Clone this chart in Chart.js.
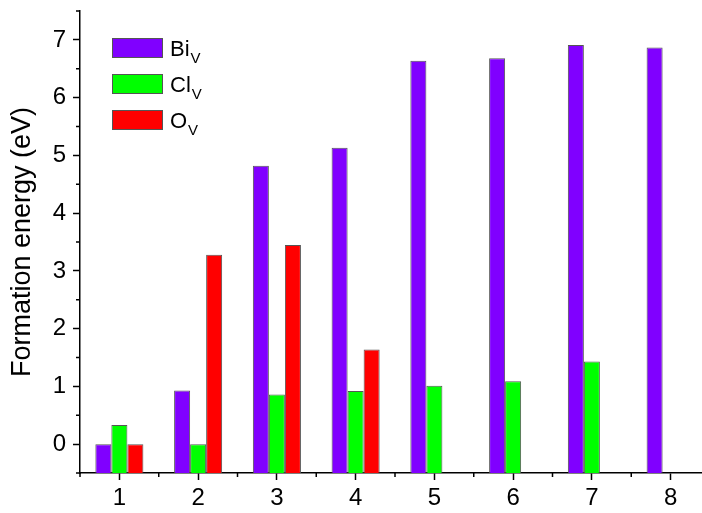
<!DOCTYPE html>
<html>
<head>
<meta charset="utf-8">
<script src="https://cdn.jsdelivr.net/npm/chart.js@4/dist/chart.umd.min.js"></script>
<style>
  html, body { margin: 0; padding: 0; background: #fff; overflow: hidden; }
  #wrap { width: 711px; height: 513px; }
</style>
</head>
<body>
<div id="wrap"><canvas id="myChart" width="711" height="513"></canvas></div>
<script>
var categories = ['1', '2', '3', '4', '5', '6', '7', '8'];
var biV = [0, 0.93, 4.82, 5.13, 6.64, 6.68, 6.91, 6.87];
var clV = [0.33, 0, 0.86, 0.92, 1.01, 1.09, 1.43, null];
var oV  = [0, 3.28, 3.45, 1.64, null, null, null, null];
var yTicks = [0, 1, 2, 3, 4, 5, 6, 7];
var seriesNames = ['Bi', 'Cl', 'O'];
var seriesSub = 'V';

var FONT = '"Liberation Sans", Arial, sans-serif';

// minor ticks on both axes (half steps)
var minorTicks = {
    id: 'minorTicks',
    afterDraw: function (chart) {
        var ctx = chart.ctx;
        var x = chart.scales.x, y = chart.scales.y;
        ctx.save();
        ctx.strokeStyle = '#000';
        ctx.lineWidth = 1.5;
        ctx.beginPath();
        for (var v = -0.5; v <= 7.5; v += 1) {
            var py = y.getPixelForValue(v);
            ctx.moveTo(x.left, py);
            ctx.lineTo(x.left - 4, py);
        }
        var step = x.getPixelForValue(1) - x.getPixelForValue(0);
        for (var i = 0; i <= categories.length; i++) {
            var px = x.getPixelForValue(0) + (i - 0.5) * step;
            ctx.moveTo(px, y.bottom);
            ctx.lineTo(px, y.bottom + 4);
        }
        ctx.stroke();
        ctx.restore();
    }
};

// legend with subscripts
var subLegend = {
    id: 'subLegend',
    afterDraw: function (chart) {
        var ctx = chart.ctx;
        ctx.save();
        chart.data.datasets.forEach(function (ds, i) {
            var top = 38 + i * 36;
            ctx.fillStyle = ds.backgroundColor;
            ctx.fillRect(112, top, 51, 20);
            ctx.strokeStyle = '#555';
            ctx.lineWidth = 1;
            ctx.strokeRect(112.5, top + 0.5, 50, 19);
            ctx.fillStyle = '#000';
            ctx.textBaseline = 'alphabetic';
            ctx.font = '22px ' + FONT;
            ctx.fillText(seriesNames[i], 170, top + 18);
            var w = ctx.measureText(seriesNames[i]).width;
            ctx.font = '15px ' + FONT;
            ctx.fillText(seriesSub, 170 + w + 1, top + 25);
        });
        ctx.restore();
    }
};

var ctx = document.getElementById('myChart').getContext('2d');
var myChart = new Chart(ctx, {
    type: 'bar',
    data: {
        labels: categories,
        datasets: [
            { label: 'BiV', data: biV, backgroundColor: '#8000ff' },
            { label: 'ClV', data: clV, backgroundColor: '#00ff00' },
            { label: 'OV',  data: oV,  backgroundColor: '#ff0000' }
        ]
    },
    options: {
        responsive: false,
        animation: false,
        layout: { padding: { top: 11, right: 1, left: 0, bottom: 0 } },
        datasets: {
            bar: {
                base: -0.5,
                borderColor: '#555',
                borderWidth: 1,
                barPercentage: 1,
                categoryPercentage: 0.61
            }
        },
        scales: {
            x: {
                offset: true,
                grid: { offset: false, drawOnChartArea: false, drawTicks: true, tickLength: 7, tickColor: '#000', tickWidth: 1.5 },
                border: { display: true, color: '#000', width: 1.5 },
                ticks: { color: '#000', font: { family: FONT, size: 24 }, padding: 4, maxRotation: 0 },
                afterFit: function (scale) {
                    scale.height = 40;
                    scale.paddingLeft = 0;
                    scale.paddingRight = 0;
                }
            },
            y: {
                min: -0.5,
                max: 7.5,
                afterBuildTicks: function (scale) {
                    scale.ticks = yTicks.map(function (v) { return { value: v }; });
                },
                grid: { drawOnChartArea: false, drawTicks: true, tickLength: 7, tickColor: '#000', tickWidth: 1.5 },
                border: { display: true, color: '#000', width: 1.5 },
                ticks: { color: '#000', font: { family: FONT, size: 24 }, padding: 7 },
                title: {
                    display: true,
                    text: 'Formation energy (eV)',
                    color: '#000',
                    font: { family: FONT, size: 27 },
                    padding: { top: 6, bottom: 0 }
                },
                afterFit: function (scale) {
                    scale.width = 80;
                    scale.paddingTop = 0;
                    scale.paddingBottom = 0;
                }
            }
        },
        plugins: {
            legend: { display: false },
            tooltip: { enabled: false }
        }
    },
    plugins: [minorTicks, subLegend]
});
</script>
</body>
</html>
